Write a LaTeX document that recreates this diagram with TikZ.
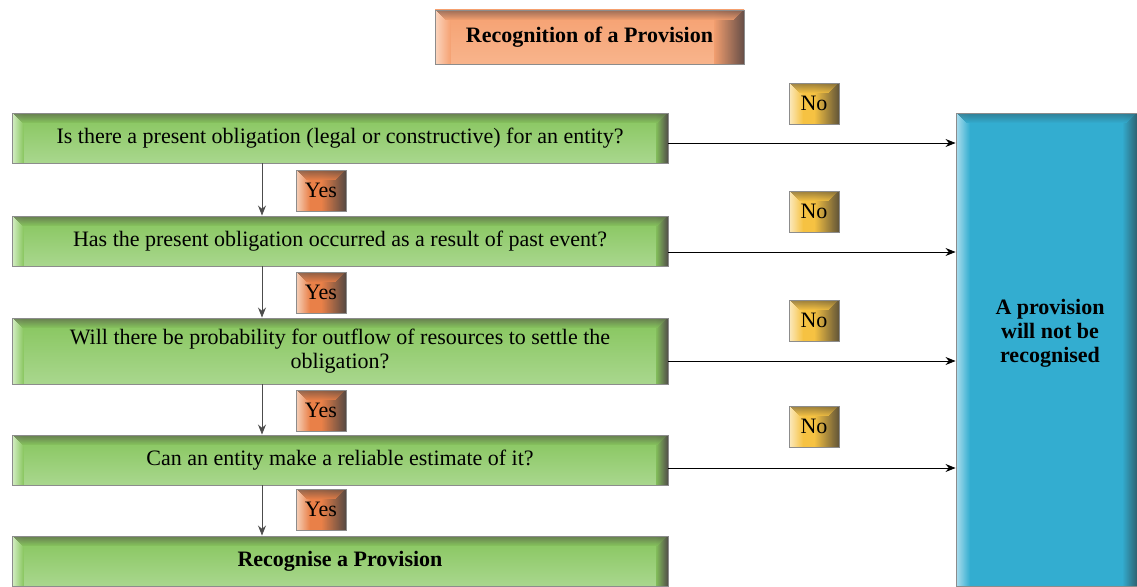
\documentclass[tikz,border=0pt]{standalone}
\usepackage{fontspec}
\setmainfont{Liberation Serif}
\usetikzlibrary{arrows.meta,calc}
\definecolor{gT}{HTML}{86C55C}
\definecolor{gB}{HTML}{A9D78E}
\definecolor{gL}{HTML}{D6EEC6}
\definecolor{gD}{HTML}{55574A}
\definecolor{oM}{HTML}{E98048}
\definecolor{oL}{HTML}{F6D2BC}
\definecolor{oD}{HTML}{5A4A42}
\definecolor{nM}{HTML}{F6C242}
\definecolor{nL}{HTML}{FBEAC0}
\definecolor{nD}{HTML}{665838}
\definecolor{tM}{HTML}{F5A070}
\definecolor{tB}{HTML}{F8B48C}
\definecolor{tL}{HTML}{FBD6C0}
\definecolor{tD}{HTML}{6A5048}
\definecolor{bM}{HTML}{33ADD0}
\definecolor{bL}{HTML}{ADDEEE}
\definecolor{bD}{HTML}{2E6676}
\tikzset{
  glossy/.style n args={6}{draw=black!45, line width=0.9pt, top color=#1, bottom color=#2,
    path picture={
      \foreach \i in {1,...,#5}{
        \pgfmathtruncatemacro\p{100*(#5-\i+1)/#5}
        \fill[#3!\p!#1] ([xshift=\i*1pt-1pt]path picture bounding box.north west) rectangle ([xshift=\i*1pt+0.1pt]path picture bounding box.south west);}
      \foreach \i in {1,...,#6}{
        \pgfmathtruncatemacro\p{100*(#6-\i+1)/#6}
        \fill[#4!\p!#1] ([xshift=-\i*1pt+1pt]path picture bounding box.north east) rectangle ([xshift=-\i*1pt-0.1pt]path picture bounding box.south east);}
      \foreach \i in {1,...,10}{
        \pgfmathtruncatemacro\p{75*(11-\i)/10}
        \fill[#4!\p!#1, opacity=0.85] ([xshift=\i*1pt, yshift=-\i*1pt+1pt]path picture bounding box.north west) rectangle ([xshift=-\i*1pt, yshift=-\i*1pt-0.1pt]path picture bounding box.north east);}
    }},
  big/.style={font=\fontsize{22}{24}\selectfont},
  bigb/.style={font=\bfseries\fontsize{22}{24}\selectfont},
  qbox/.style={glossy={gT}{gB}{gL}{gD}{12}{12}, minimum width=656pt, minimum height=50pt,
    big, align=center, inner sep=2pt},
  yesbox/.style={glossy={oM}{oM}{oL}{oD}{14}{24}, minimum width=50pt, minimum height=41pt, big, inner sep=0pt},
  nobox/.style={glossy={nM}{nM}{nL}{nD}{14}{24}, minimum width=50pt, minimum height=41pt, big, inner sep=0pt},
  arr/.style={-{Stealth[length=10pt,width=8pt]}, line width=0.9pt, black},
  varr/.style={arr, draw=black!70},
}
\begin{document}
\begin{tikzpicture}[x=1pt,y=-1pt]
\useasboundingbox (0,0) rectangle (1137,586);
% title
\node[glossy={tM}{tB}{tL}{tD}{16}{30}, minimum width=309pt, minimum height=54pt, bigb] (title) at (589.5,37) {Recognition of a Provision};
% questions
\node[qbox] (q1) at (340,138) {Is there a present obligation (legal or constructive) for an entity?};
\node[qbox] (q2) at (340,241) {Has the present obligation occurred as a result of past event?};
\node[qbox, minimum height=66pt] (q3) at (340,351) {Will there be probability for outflow of resources to settle the\\obligation?};
\node[qbox] (q4) at (340,460) {Can an entity make a reliable estimate of it?};
\node[qbox, bigb] (q5) at (340,561) {Recognise a Provision};
% result
\node[glossy={bM}{bM}{bL}{bD}{14}{14}, minimum width=181pt, minimum height=473pt] (res) at (1046.5,349.5) {};
\node[bigb, align=center] (restext) at (1050,333) {A provision\\will not be\\recognised};
% yes labels
\node[yesbox] (y1) at (321,190.5) {Yes};
\node[yesbox] (y2) at (321,292.5) {Yes};
\node[yesbox] (y3) at (321,410.5) {Yes};
\node[yesbox] (y4) at (321,509.5) {Yes};
% no labels
\node[nobox] (n1) at (814,103.5) {No};
\node[nobox] (n2) at (814,211.5) {No};
\node[nobox] (n3) at (814,320.5) {No};
\node[nobox] (n4) at (814,426.5) {No};
% vertical arrows
\draw[varr] (q1.south -| 262,0) -- (q2.north -| 262,0);
\draw[varr] (q2.south -| 262,0) -- (q3.north -| 262,0);
\draw[varr] (q3.south -| 262,0) -- (q4.north -| 262,0);
\draw[varr] (q4.south -| 262,0) -- (q5.north -| 262,0);
% horizontal arrows
\draw[arr] (q1.east |- 0,143) -- (res.west |- 0,143);
\draw[arr] (q2.east |- 0,252) -- (res.west |- 0,252);
\draw[arr] (q3.east |- 0,361) -- (res.west |- 0,361);
\draw[arr] (q4.east |- 0,468) -- (res.west |- 0,468);
\end{tikzpicture}
\end{document}
